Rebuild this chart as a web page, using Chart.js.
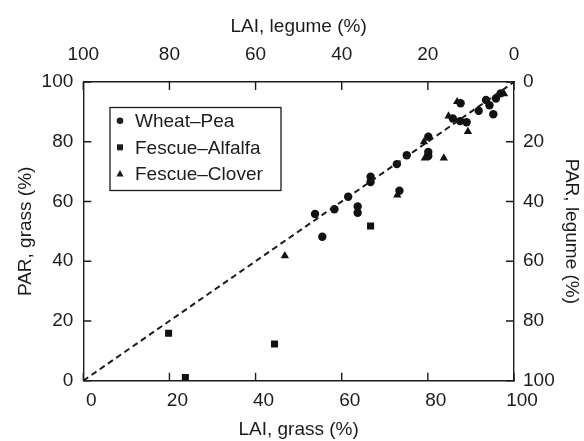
<!DOCTYPE html>
<html>
<head>
<meta charset="utf-8">
<script src="https://cdn.jsdelivr.net/npm/chart.js@4/dist/chart.umd.min.js"></script>
<style>
  body { margin: 0; background: #fff; }
</style>
</head>
<body>
<canvas id="chart" width="584" height="441"></canvas>
<script>
// LAI, grass (%) vs PAR, grass (%)
const wheatPeaX = [53.8, 55.5, 58.3, 61.5, 63.7, 63.7, 66.7, 66.7, 72.8, 73.4, 75.1, 80.1, 80.1, 80.1,
                   85.8, 87.6, 87.5, 89.0, 91.8, 93.5, 94.3, 95.2, 95.8, 96.9];
const wheatPeaY = [55.8, 48.2, 57.4, 61.6, 58.3, 56.2, 68.3, 66.5, 72.5, 63.6, 75.5, 81.7, 76.6, 75.2,
                   87.8, 92.9, 86.9, 86.5, 90.4, 94.0, 92.2, 89.2, 94.5, 96.2];
const alfalfaX = [19.8, 23.7, 44.4, 66.7];
const alfalfaY = [15.9, 1.1, 12.3, 51.8];
const cloverX = [46.8, 72.9, 79.1, 79.3, 83.7, 84.8, 86.8, 89.3, 97.7];
const cloverY = [41.8, 62.1, 80.0, 74.5, 74.5, 88.6, 93.4, 83.4, 96.0];
const seriesNames = ['Wheat\u2013Pea', 'Fescue\u2013Alfalfa', 'Fescue\u2013Clover'];
const tickValues = [0, 20, 40, 60, 80, 100];

const ink = '#1c1c1c';
const font = { family: 'Liberation Sans, Arial, sans-serif', size: 19 };

const pts = (xs, ys) => xs.map((x, i) => ({ x, y: ys[i] }));

// short tick marks drawn inward, plus the boxed legend inside the plot
const frameExtras = {
    id: 'frameExtras',
    afterDraw(chart) {
        const ctx = chart.ctx;
        const a = chart.chartArea;
        const len = 8;
        ctx.save();
        ctx.strokeStyle = ink;
        ctx.lineWidth = 1.4;
        tickValues.forEach(v => {
            const px = chart.scales.x.getPixelForValue(v);
            const py = chart.scales.y.getPixelForValue(v);
            ctx.beginPath();
            ctx.moveTo(px, a.bottom); ctx.lineTo(px, a.bottom - len);
            ctx.moveTo(px, a.top); ctx.lineTo(px, a.top + len);
            ctx.moveTo(a.left, py); ctx.lineTo(a.left + len, py);
            ctx.moveTo(a.right, py); ctx.lineTo(a.right - len, py);
            ctx.stroke();
        });

        // legend
        ctx.lineWidth = 1.3;
        ctx.strokeRect(110, 107.5, 171, 83);
        const rows = [120.7, 147.3, 174];
        ctx.fillStyle = ink;
        ctx.font = '19px Liberation Sans, Arial, sans-serif';
        ctx.textBaseline = 'middle';
        rows.forEach((ry, i) => {
            const mx = 120;
            ctx.beginPath();
            if (i === 0) {
                ctx.arc(mx, ry, 3.3, 0, Math.PI * 2);
            } else if (i === 1) {
                ctx.rect(mx - 3, ry - 3, 6, 6);
            } else {
                ctx.moveTo(mx, ry - 4);
                ctx.lineTo(mx + 3.6, ry + 2.5);
                ctx.lineTo(mx - 3.6, ry + 2.5);
                ctx.closePath();
            }
            ctx.fill();
            ctx.fillText(seriesNames[i], 135, ry + 1);
        });
        ctx.restore();
    }
};

const axisBase = (extra) => Object.assign({
    type: 'linear',
    min: 0,
    max: 100,
    grid: { drawOnChartArea: false, drawTicks: false },
    border: { display: true, color: ink, width: 1.4 },
}, extra);

new Chart(document.getElementById('chart'), {
    type: 'scatter',
    data: {
        datasets: [
            {
                label: 'one-to-one',
                data: pts([0, 100], [0, 100]),
                showLine: true,
                borderColor: ink,
                borderWidth: 2,
                borderDash: [6, 4],
                pointRadius: 0
            },
            {
                label: seriesNames[0],
                data: pts(wheatPeaX, wheatPeaY),
                pointStyle: 'circle',
                pointRadius: 4.2,
                backgroundColor: '#111',
                borderWidth: 0
            },
            {
                label: seriesNames[1],
                data: pts(alfalfaX, alfalfaY),
                pointStyle: 'rect',
                pointRadius: 5,
                backgroundColor: '#111',
                borderWidth: 0
            },
            {
                label: seriesNames[2],
                data: pts(cloverX, cloverY),
                pointStyle: 'triangle',
                pointRadius: 4.8,
                backgroundColor: '#111',
                borderWidth: 0
            }
        ]
    },
    options: {
        responsive: false,
        animation: false,
        events: [],
        layout: { padding: 0 },
        plugins: { legend: { display: false }, tooltip: { enabled: false } },
        scales: {
            x: axisBase({
                position: 'bottom',
                ticks: { stepSize: 20, color: ink, font, padding: 9, labelOffset: 8, maxRotation: 0 },
                title: { display: true, text: 'LAI, grass (%)', color: ink, font, padding: { top: 0, bottom: 0 } },
                afterFit: s => { s.height = 60.3; }
            }),
            x2: axisBase({
                position: 'top',
                reverse: true,
                ticks: { stepSize: 20, color: ink, font, padding: 16, maxRotation: 0 },
                title: { display: true, text: 'LAI, legume (%)', color: ink, font, padding: { top: 15.5, bottom: 0 } },
                afterFit: s => { s.height = 82; }
            }),
            y: axisBase({
                position: 'left',
                ticks: { stepSize: 20, color: ink, font, padding: 10 },
                title: { display: true, text: 'PAR, grass (%)', color: ink, font, padding: { top: 14, bottom: 0 } },
                afterFit: s => { s.width = 83.3; }
            }),
            y2: axisBase({
                position: 'right',
                reverse: true,
                ticks: { stepSize: 20, color: ink, font, padding: 9 },
                title: { display: true, text: 'PAR, legume (%)', color: ink, font, padding: { top: 1.6, bottom: 0 } },
                afterFit: s => { s.width = 70; }
            })
        }
    },
    plugins: [frameExtras]
});
</script>
</body>
</html>
